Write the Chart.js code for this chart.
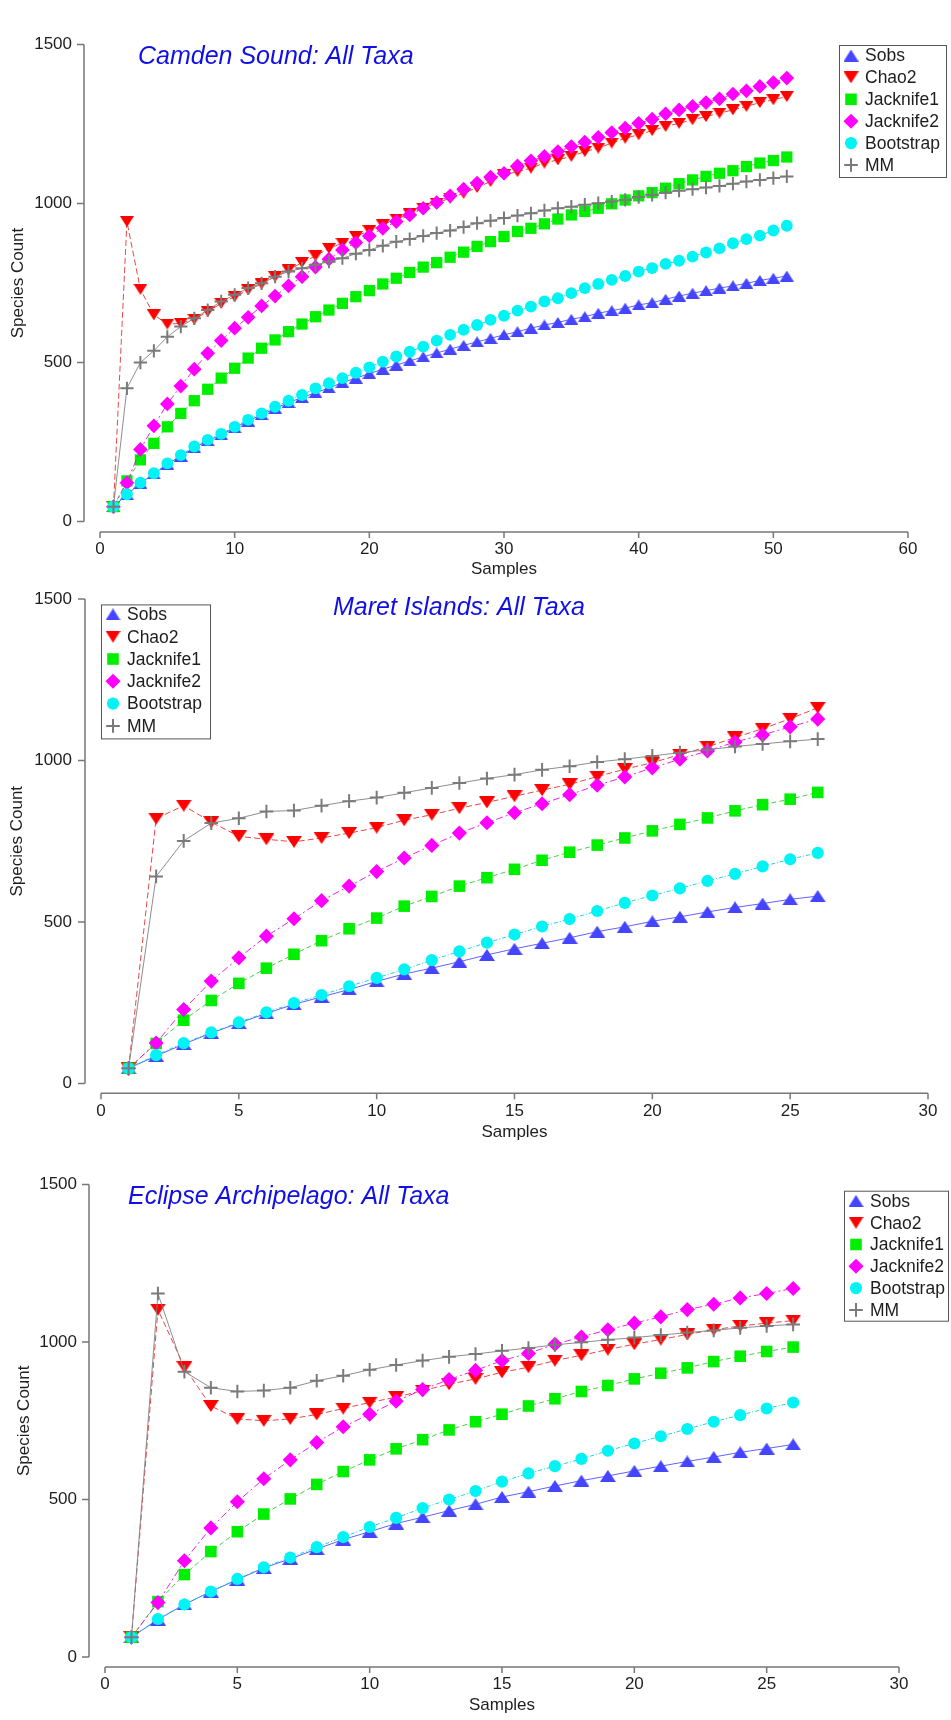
<!DOCTYPE html>
<html>
<head>
<meta charset="utf-8">
<title>Species accumulation curves</title>
<script src="https://cdn.jsdelivr.net/npm/chart.js@4.4.1/dist/chart.umd.min.js"></script>
<style>
  html, body { margin: 0; padding: 0; background: #fff; }
  body { width: 951px; height: 1720px; position: relative; overflow: hidden; }
  canvas { position: absolute; left: 0; }
</style>
</head>
<body>
<canvas id="camden" width="951" height="580" style="top:0"></canvas>
<canvas id="maret" width="951" height="565" style="top:580px"></canvas>
<canvas id="eclipse" width="951" height="575" style="top:1145px"></canvas>
<script>
// ---- data ----
const yTicks = [0, 500, 1000, 1500];
const xTicksCamden = [0, 10, 20, 30, 40, 50, 60];
const xTicksIslands = [0, 5, 10, 15, 20, 25, 30];

const samplesCamden = [1, 2, 3, 4, 5, 6, 7, 8, 9, 10, 11, 12, 13, 14, 15, 16, 17, 18, 19, 20,
  21, 22, 23, 24, 25, 26, 27, 28, 29, 30, 31, 32, 33, 34, 35, 36, 37, 38, 39, 40,
  41, 42, 43, 44, 45, 46, 47, 48, 49, 50, 51];
const samplesIslands = [1, 2, 3, 4, 5, 6, 7, 8, 9, 10, 11, 12, 13, 14, 15, 16, 17, 18, 19, 20,
  21, 22, 23, 24, 25, 26];

// Camden Sound
const sobsCamden = [47, 85, 120, 150, 180, 206, 232, 254, 273, 295, 316, 336, 356, 374, 390, 405, 420, 437, 451, 465,
  479, 492, 505, 518, 530, 542, 554, 565, 576, 587, 597, 608, 618, 626, 636, 644, 655, 663, 671, 681,
  688, 699, 709, 718, 726, 734, 741, 749, 758, 765, 772];
const chao2Camden = [47, 943, 730, 650, 621, 623, 636, 660, 686, 707, 728, 747, 770, 791, 814, 835, 859, 875, 896, 915,
  933, 951, 967, 985, 1001, 1017, 1032, 1050, 1069, 1090, 1100, 1111, 1127, 1137, 1148, 1163, 1174, 1190, 1205, 1216,
  1229, 1242, 1252, 1263, 1273, 1284, 1294, 1305, 1317, 1326, 1336];
const jack1Camden = [47, 128, 194, 246, 298, 340, 380, 416, 451, 482, 514, 545, 571, 597, 621, 644, 665, 686, 707, 726,
  747, 765, 783, 800, 814, 831, 847, 865, 880, 896, 912, 922, 936, 951, 964, 975, 985, 999, 1011, 1024,
  1034, 1048, 1062, 1074, 1085, 1095, 1103, 1116, 1127, 1135, 1146];
const jack2Camden = [47, 122, 227, 301, 370, 426, 479, 529, 569, 608, 642, 678, 709, 741, 770, 800, 825, 854, 877, 898,
  922, 943, 964, 985, 1003, 1024, 1045, 1064, 1083, 1095, 1118, 1134, 1148, 1163, 1179, 1193, 1208, 1223, 1237, 1252,
  1265, 1282, 1294, 1305, 1317, 1329, 1344, 1354, 1368, 1380, 1394];
const bootCamden = [47, 86, 122, 152, 183, 209, 236, 257, 276, 298, 320, 340, 361, 380, 398, 419, 435, 451, 468, 485,
  503, 519, 534, 550, 569, 587, 603, 618, 634, 647, 663, 676, 692, 702, 718, 734, 747, 760, 772, 786,
  797, 810, 820, 833, 846, 859, 875, 888, 899, 915, 930];
const mmCamden = [47, 419, 500, 537, 581, 613, 639, 665, 692, 713, 734, 749, 770, 786, 796, 807, 817, 828, 842, 854,
  867, 880, 888, 898, 907, 915, 926, 938, 946, 954, 962, 969, 978, 985, 990, 996, 1001, 1006, 1011, 1020,
  1027, 1034, 1040, 1045, 1050, 1055, 1062, 1069, 1074, 1080, 1085];

// Maret Islands
const sobsMaret = [47, 85, 122, 156, 187, 217, 245, 268, 291, 316, 339, 357, 377, 398, 417, 434, 451, 470, 485, 502,
  516, 531, 545, 557, 570, 580];
const chao2Maret = [47, 820, 860, 809, 765, 756, 748, 760, 775, 792, 815, 832, 852, 870, 889, 908, 926, 950, 973, 993,
  1018, 1042, 1071, 1098, 1129, 1163];
const jack1Maret = [47, 124, 196, 257, 310, 357, 400, 442, 479, 512, 549, 579, 611, 637, 663, 691, 716, 738, 760, 782,
  802, 822, 844, 863, 880, 901];
const jack2Maret = [47, 125, 229, 317, 389, 456, 510, 566, 611, 656, 698, 737, 775, 807, 838, 866, 894, 923, 949, 977,
  1004, 1029, 1057, 1079, 1104, 1128];
const bootMaret = [47, 88, 125, 158, 189, 220, 249, 274, 301, 327, 353, 382, 409, 436, 461, 486, 509, 534, 559, 582,
  604, 627, 649, 672, 694, 714];
const mmMaret = [47, 641, 751, 806, 821, 842, 845, 860, 874, 885, 900, 915, 930, 944, 956, 971, 982, 995, 1004, 1014,
  1024, 1033, 1043, 1051, 1059, 1066];

// Eclipse Archipelago
const sobsEclipse = [63, 119, 167, 208, 246, 283, 312, 343, 373, 398, 424, 444, 465, 485, 508, 525, 543, 560, 575, 591,
  606, 621, 635, 650, 662, 675];
const chao2Eclipse = [63, 1103, 920, 797, 756, 750, 756, 770, 789, 808, 825, 846, 866, 883, 904, 920, 941, 958, 976, 993,
  1008, 1024, 1039, 1051, 1060, 1068];
const jack1Eclipse = [63, 176, 262, 335, 398, 454, 502, 548, 589, 626, 661, 690, 721, 747, 771, 797, 820, 843, 862, 883,
  901, 918, 938, 955, 970, 984];
const jack2Eclipse = [63, 173, 306, 410, 493, 566, 626, 681, 731, 771, 812, 849, 881, 910, 941, 964, 993, 1016, 1039, 1060,
  1080, 1103, 1120, 1140, 1154, 1170];
const bootEclipse = [63, 121, 167, 208, 248, 285, 316, 349, 381, 413, 442, 473, 500, 527, 557, 583, 606, 629, 655, 678,
  701, 724, 747, 768, 789, 808];
const mmEclipse = [63, 1154, 906, 855, 843, 846, 855, 877, 893, 912, 927, 941, 953, 962, 972, 981, 991, 999, 1007, 1014,
  1022, 1030, 1037, 1045, 1051, 1056];

const seriesNames = ['Sobs', 'Chao2', 'Jacknife1', 'Jacknife2', 'Bootstrap', 'MM'];

// ---- styling ----
const FONT = '"Liberation Sans", Arial, sans-serif';
const TEXT = '#1e1e1e';
const AXIS = '#777777';

// marker + line look per estimator; order: lower is drawn on top
// tri: 'up' / 'down' -> flat triangle drawn on a small canvas (Igor markers are wider than tall)
const looks = [
  { fill: '#4545ff', line: 'rgba(70,70,255,0.85)', dash: [], tri: 'up', r: 7.5, bw: 0, order: 6 },
  { fill: '#ff0000', line: 'rgba(230,40,40,0.85)', dash: [6, 3], tri: 'down', r: 7.5, bw: 0, order: 5 },
  { fill: '#00ee00', line: 'rgba(40,200,40,0.85)', dash: [5, 3], style: 'rect', r: 7.8, bw: 0, order: 4 },
  { fill: '#ff00ff', line: 'rgba(230,0,230,0.85)', dash: [7, 3, 2, 3], style: 'rectRot', r: 7.2, bw: 0, order: 3 },
  { fill: '#00f4f4', line: 'rgba(0,210,220,0.9)', dash: [4, 2, 1, 2], style: 'circle', r: 5.8, bw: 0, order: 2 },
  { fill: '#7a7a7a', line: 'rgba(130,130,130,0.9)', dash: [], style: 'cross', r: 6.5, bw: 2, order: 1 },
];

function triangle(w, h, color, dir) {
  const c = document.createElement('canvas');
  c.width = w;
  c.height = h;
  const g = c.getContext('2d');
  g.fillStyle = color;
  g.beginPath();
  if (dir === 'down') {
    g.moveTo(0, 0); g.lineTo(w, 0); g.lineTo(w / 2, h);
  } else {
    g.moveTo(w / 2, 0); g.lineTo(w, h); g.lineTo(0, h);
  }
  g.closePath();
  g.fill();
  return c;
}

function markerStyle(lk, tw, th) {
  return lk.tri ? triangle(tw, th, lk.fill, lk.tri) : lk.style;
}

const frame = {
  id: 'frame',
  afterDraw(chart, args, o) {
    const { ctx, chartArea, scales: { x, y } } = chart;
    ctx.save();

    // detached axes, Igor style
    ctx.strokeStyle = AXIS;
    ctx.lineWidth = 1.5;
    ctx.beginPath();
    const ax = chartArea.left - o.gapY;
    ctx.moveTo(ax, y.getPixelForValue(y.max));
    ctx.lineTo(ax, y.getPixelForValue(y.min));
    y.ticks.forEach(t => {
      const py = y.getPixelForValue(t.value);
      ctx.moveTo(ax - 7, py);
      ctx.lineTo(ax, py);
    });
    const ay = chartArea.bottom + o.gapX;
    ctx.moveTo(x.getPixelForValue(x.min), ay);
    ctx.lineTo(x.getPixelForValue(x.max), ay);
    x.ticks.forEach(t => {
      const px = x.getPixelForValue(t.value);
      ctx.moveTo(px, ay);
      ctx.lineTo(px, ay + 6);
    });
    ctx.stroke();

    // in-plot title
    ctx.font = 'italic 25px ' + FONT;
    ctx.fillStyle = '#1010e6';
    ctx.textAlign = 'left';
    ctx.textBaseline = 'middle';
    ctx.fillText(o.title, o.titleX, o.titleY);

    // boxed legend
    const L = o.legend;
    ctx.fillStyle = '#fff';
    ctx.fillRect(L.x, L.y, L.w, L.h);
    ctx.strokeStyle = '#555';
    ctx.lineWidth = 1;
    ctx.strokeRect(L.x + 0.5, L.y + 0.5, L.w, L.h);
    ctx.font = '17.5px ' + FONT;
    chart.data.datasets.forEach((ds, i) => {
      const cy = L.y + L.first + i * L.row;
      const lk = looks[i];
      ctx.fillStyle = lk.fill;
      ctx.strokeStyle = lk.fill;
      ctx.lineWidth = lk.bw;
      Chart.helpers.drawPoint(ctx, {
        pointStyle: markerStyle(lk, 15, 12), rotation: 0, radius: lk.r * 1.05, borderWidth: lk.bw
      }, L.x + 12, cy);
      ctx.fillStyle = TEXT;
      ctx.fillText(ds.label, L.x + 26, cy + 1);
    });
    ctx.restore();
  }
};

function makeChart(id, cfg) {
  const tickFont = { family: FONT, size: 17 };
  const H = cfg.height;
  const datasets = cfg.series.map((vals, i) => {
    const lk = looks[i];
    return {
      label: seriesNames[i],
      data: cfg.samples.map((s, j) => ({ x: s, y: vals[j] })),
      borderColor: lk.line,
      borderWidth: 1,
      borderDash: lk.dash,
      backgroundColor: lk.fill,
      pointStyle: markerStyle(lk, cfg.tri[0], cfg.tri[1]),
      pointRadius: lk.r * cfg.k,
      pointHoverRadius: lk.r * cfg.k,
      pointBackgroundColor: lk.fill,
      pointBorderColor: lk.fill,
      pointBorderWidth: lk.bw,
      tension: 0,
      order: lk.order,
      clip: false,
    };
  });

  return new Chart(document.getElementById(id), {
    type: 'line',
    data: { datasets },
    options: {
      responsive: false,
      animation: false,
      events: [],
      layout: { padding: { left: 0, top: cfg.top, right: 951 - cfg.right, bottom: 0 } },
      scales: {
        x: {
          type: 'linear',
          min: cfg.xTicks[0],
          max: cfg.xTicks[cfg.xTicks.length - 1],
          afterBuildTicks: s => { s.ticks = cfg.xTicks.map(v => ({ value: v })); },
          afterFit: s => { s.height = H - cfg.bottom; },
          grid: { display: true, drawOnChartArea: false, color: 'rgba(0,0,0,0)', tickLength: cfg.xLab - 5 },
          border: { display: false },
          ticks: { padding: 5, font: tickFont, color: TEXT, maxRotation: 0, autoSkip: false, callback: v => String(v) },
          title: { display: true, text: 'Samples', font: tickFont, color: TEXT, padding: { top: 0, bottom: cfg.xTitlePad } },
        },
        y: {
          type: 'linear',
          min: 0,
          max: 1500,
          afterBuildTicks: s => { s.ticks = yTicks.map(v => ({ value: v })); },
          afterFit: s => { s.width = cfg.left; },
          grid: { display: true, drawOnChartArea: false, color: 'rgba(0,0,0,0)', tickLength: cfg.yLab - 5 },
          border: { display: false },
          ticks: { padding: 5, font: tickFont, color: TEXT, callback: v => String(v) },
          title: { display: true, text: 'Species Count', font: tickFont, color: TEXT, padding: { top: cfg.yTitlePad, bottom: 0 } },
        },
      },
      plugins: {
        legend: { display: false },
        tooltip: { enabled: false },
        frame: {
          gapY: 16, gapX: cfg.gapX,
          title: cfg.title, titleX: cfg.titleX, titleY: cfg.titleY,
          legend: cfg.legend,
        },
      },
    },
    plugins: [frame],
  });
}

makeChart('camden', {
  height: 580, left: 100, right: 908, top: 44.4, bottom: 521.6, gapX: 10.4,
  yLab: 28, xLab: 17.2, yTitlePad: 8, xTitlePad: 0, k: 1.02, tri: [14, 11],
  samples: samplesCamden, xTicks: xTicksCamden,
  series: [sobsCamden, chao2Camden, jack1Camden, jack2Camden, bootCamden, mmCamden],
  title: 'Camden Sound: All Taxa', titleX: 138, titleY: 57,
  legend: { x: 839, y: 45, w: 107, h: 132, first: 10.5, row: 21.9 },
});

makeChart('maret', {
  height: 565, left: 101, right: 928, top: 18.9, bottom: 503.5, gapX: 9.8,
  yLab: 29, xLab: 17.8, yTitlePad: 7, xTitlePad: 2, k: 1.05, tri: [16, 12],
  samples: samplesIslands, xTicks: xTicksIslands,
  series: [sobsMaret, chao2Maret, jack1Maret, jack2Maret, bootMaret, mmMaret],
  title: 'Maret Islands: All Taxa', titleX: 333, titleY: 28,
  legend: { x: 101, y: 24.4, w: 109, h: 134, first: 10, row: 22.3 },
});

makeChart('eclipse', {
  height: 575, left: 105, right: 899, top: 39.5, bottom: 512.1, gapX: 9.8,
  yLab: 28, xLab: 17.1, yTitlePad: 14, xTitlePad: 4, k: 1.05, tri: [16, 12],
  samples: samplesIslands, xTicks: xTicksIslands,
  series: [sobsEclipse, chao2Eclipse, jack1Eclipse, jack2Eclipse, bootEclipse, mmEclipse],
  title: 'Eclipse Archipelago: All Taxa', titleX: 128, titleY: 52,
  legend: { x: 844, y: 45.7, w: 104, h: 130, first: 10.2, row: 21.8 },
});
</script>
</body>
</html>
